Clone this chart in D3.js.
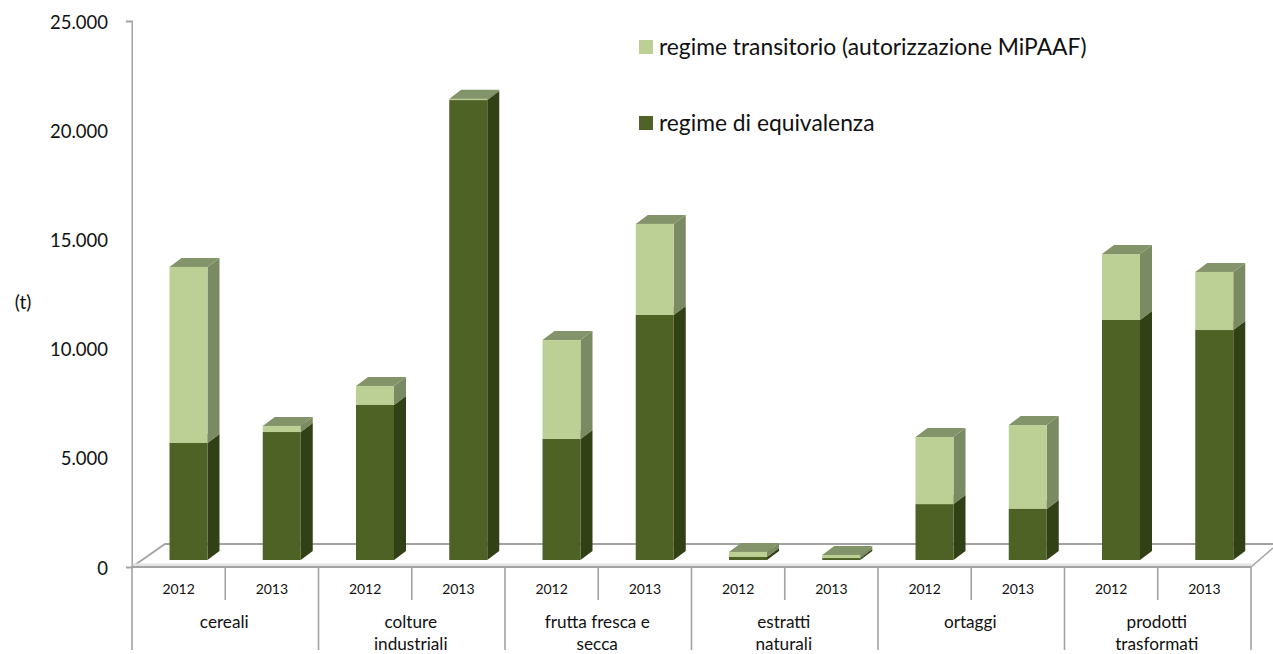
<!DOCTYPE html>
<html>
<head>
<meta charset="utf-8">
<script src="https://cdn.jsdelivr.net/npm/d3@7"></script>
<style>
  html, body { margin: 0; padding: 0; background: #fff; }
  svg { display: block; }
  text { font-family: Lato, "Open Sans", sans-serif; fill: #111; }
</style>
</head>
<body>
<div id="chart"></div>
<script>
var svgWidth = 1273;
var svgHeight = 654;

var categories = ["cereali", "colture industriali", "frutta fresca e secca", "estratti naturali", "ortaggi", "prodotti trasformati"];
var years = ["2012", "2013"];
var yTicks = [0, 5000, 10000, 15000, 20000, 25000];

// one value per category/year, in tonnes
var equivalenza = [5360, 5860, 7100, 21060, 5540, 11220, 140, 90, 2560, 2340, 10990, 10530];
var transitorio = [8060, 280, 870, 60, 4530, 4170, 230, 140, 3070, 3840, 3020, 2660];

var seriesNames = ["regime di equivalenza", "regime transitorio (autorizzazione MiPAAF)"];
var legendNames = ["regime transitorio (autorizzazione MiPAAF)", "regime di equivalenza"];

var categoryLines = {
  "cereali": ["cereali"],
  "colture industriali": ["colture", "industriali"],
  "frutta fresca e secca": ["frutta fresca e", "secca"],
  "estratti naturali": ["estratti", "naturali"],
  "ortaggi": ["ortaggi"],
  "prodotti trasformati": ["prodotti", "trasformati"]
};

var colors = {
  "regime di equivalenza": { front: "#4f6228", side: "#333f17", top: "#84946a" },
  "regime transitorio (autorizzazione MiPAAF)": { front: "#bcd096", side: "#7a8a62", top: "#84946a" }
};

var plot = { left: 132, right: 1251, top: 21, bottom: 567 };
var depthX = 12, depthY = 9;   // 3d offset of the bars
var floorLift = 7;             // bars stand a bit behind the axis plane
var axisColor = "#a3a3a3";

var svg = d3.select("#chart")
  .append("svg")
  .attr("width", svgWidth)
  .attr("height", svgHeight);

var soft = svg.append("defs").append("filter")
  .attr("id", "soft")
  .attr("x", "-5%").attr("y", "-5%").attr("width", "110%").attr("height", "110%");
soft.append("feGaussianBlur").attr("stdDeviation", 0.45);

// Scales
var x0 = d3.scaleBand().domain(categories).range([plot.left, plot.right]);
var x1 = d3.scaleBand().domain(years).range([0, x0.bandwidth()]);
var y = d3.scaleLinear().domain([0, 25000]).range([plot.bottom, plot.top]);

var barOffset = 37.5, barWidth = 38;

// one row per bar
var rows = [];
categories.forEach(function(c, i) {
  years.forEach(function(yr, j) {
    var k = i * 2 + j;
    var row = { category: c, year: yr };
    row[seriesNames[0]] = equivalenza[k];
    row[seriesNames[1]] = transitorio[k];
    rows.push(row);
  });
});

var stacked = d3.stack().keys(seriesNames)(rows);

// Floor
var floor = svg.append("g").attr("filter", "url(#soft)");
floor.append("path")
  .attr("d", "M" + plot.left + "," + plot.bottom + "L165," + (plot.bottom - 23) + "H1273")
  .attr("fill", "none").attr("stroke", axisColor).attr("stroke-width", 1.8);
floor.append("path")
  .attr("d", "M" + plot.right + "," + plot.bottom + "L1273," + (plot.bottom - 19))
  .attr("fill", "none").attr("stroke", axisColor).attr("stroke-width", 1.6);
floor.append("line")
  .attr("x1", plot.left).attr("x2", plot.right)
  .attr("y1", plot.bottom - 2).attr("y2", plot.bottom - 2)
  .attr("stroke", "#e4e4e4").attr("stroke-width", 3);

// Bars
var barLayer = svg.append("g").attr("filter", "url(#soft)");

stacked.forEach(function(layer) {
  var c = colors[layer.key];
  var g = barLayer.append("g");
  var left = function(d) { return x0(d.data.category) + x1(d.data.year) + barOffset; };
  var yTop = function(d) { return y(d[1]) - floorLift; };
  var yBot = function(d) { return y(d[0]) - floorLift; };

  // right side
  g.selectAll("path.side").data(layer).enter().append("path")
    .attr("class", "side")
    .attr("fill", c.side)
    .attr("d", function(d) {
      var r = left(d) + barWidth;
      return "M" + r + "," + yBot(d) + "L" + (r + depthX) + "," + (yBot(d) - depthY) +
        "V" + (yTop(d) - depthY) + "L" + r + "," + yTop(d) + "Z";
    });

  // top, covered by the next layer where there is one
  g.selectAll("path.top").data(layer).enter().append("path")
    .attr("class", "top")
    .attr("fill", c.top)
    .attr("d", function(d) {
      var l = left(d);
      return "M" + l + "," + yTop(d) + "L" + (l + depthX) + "," + (yTop(d) - depthY) +
        "H" + (l + barWidth + depthX) + "L" + (l + barWidth) + "," + yTop(d) + "Z";
    });

  g.selectAll("rect").data(layer).enter().append("rect")
    .attr("fill", c.front)
    .attr("x", left)
    .attr("y", yTop)
    .attr("width", barWidth)
    .attr("height", function(d) { return yBot(d) - yTop(d); });
});

// Y axis
var yAxis = d3.axisLeft(y)
  .tickValues(yTicks)
  .tickSize(6)
  .tickPadding(18)
  .tickFormat(function(d) { return d3.format(",")(d).replace(/,/g, "."); });

var yAxisG = svg.append("g")
  .attr("transform", "translate(" + plot.left + ",0)")
  .call(yAxis);
yAxisG.selectAll("path, line").attr("stroke", axisColor).attr("stroke-width", 2).attr("filter", "url(#soft)");
yAxisG.selectAll("text").attr("font-size", 18.5).attr("font-family", "Lato").attr("fill", "#111")
  .attr("dy", "0.38em");

svg.append("text")
  .attr("x", 23).attr("y", 302)
  .attr("dy", "0.35em")
  .attr("text-anchor", "middle")
  .attr("font-size", 19)
  .text("(t)");

// Category axis: bottom line, separators and two rows of labels
var xAxisG = svg.append("g").attr("filter", "url(#soft)");
xAxisG.append("line")
  .attr("x1", plot.left).attr("x2", plot.right)
  .attr("y1", plot.bottom).attr("y2", plot.bottom)
  .attr("stroke", axisColor).attr("stroke-width", 2.2);

var yearSeps = categories.map(function(c) { return x0(c) + x0.bandwidth() / 2; });
var catSeps = categories.map(function(c) { return x0(c); }).concat([plot.right]);

xAxisG.selectAll("line.year").data(yearSeps).enter().append("line")
  .attr("class", "year")
  .attr("x1", function(d) { return d; }).attr("x2", function(d) { return d; })
  .attr("y1", plot.bottom).attr("y2", 600)
  .attr("stroke", axisColor).attr("stroke-width", 1.6);

xAxisG.selectAll("line.cat").data(catSeps).enter().append("line")
  .attr("class", "cat")
  .attr("x1", function(d) { return d; }).attr("x2", function(d) { return d; })
  .attr("y1", plot.bottom).attr("y2", 650)
  .attr("stroke", axisColor).attr("stroke-width", 1.6);

svg.append("g").selectAll("text").data(rows).enter().append("text")
  .attr("x", function(d) { return x0(d.category) + x1(d.year) + x1.bandwidth() / 2; })
  .attr("y", 589)
  .attr("dy", "0.35em")
  .attr("text-anchor", "middle")
  .attr("font-size", 14)
  .text(function(d) { return d.year; });

categories.forEach(function(c) {
  var lines = categoryLines[c];
  svg.append("g").selectAll("text").data(lines).enter().append("text")
    .attr("x", x0(c) + x0.bandwidth() / 2 - 1)
    .attr("y", function(d, i) { return 622 + i * 21.5; })
    .attr("dy", "0.35em")
    .attr("text-anchor", "middle")
    .attr("font-size", 17.2)
    .text(function(d) { return d; });
});

// Legend
var legend = svg.append("g").selectAll("g").data(legendNames).enter().append("g")
  .attr("transform", function(d, i) { return "translate(639," + (40 + i * 76) + ")"; });

legend.append("rect")
  .attr("width", 14).attr("height", 14)
  .attr("fill", function(d) { return colors[d].front; });

legend.append("text")
  .attr("x", 20).attr("y", 7)
  .attr("dy", "0.35em")
  .attr("font-size", 22.8)
  .text(function(d) { return d; });
</script>
</body>
</html>
